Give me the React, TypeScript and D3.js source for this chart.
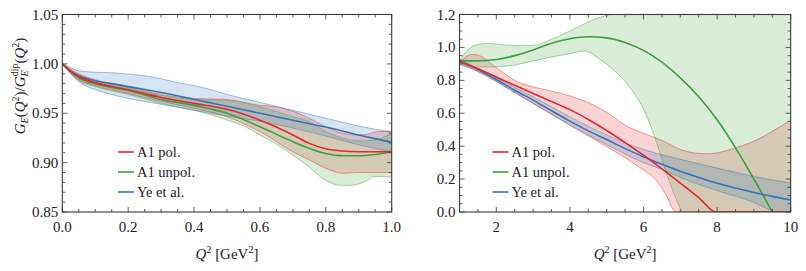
import React from "react";
import * as d3 from "d3";

type P = [number, number];

// ---------- Left panel data (Q^2 in GeV^2, ratio) ----------
const leftBlueMid: P[] = [[0,1.0],[0.02,0.994],[0.05,0.988],[0.1,0.983],[0.15,0.980],[0.2,0.977],[0.3,0.971],[0.4,0.964],[0.5,0.957],[0.6,0.950],[0.7,0.943],[0.8,0.936],[0.9,0.928],[1.0,0.9205]];
const leftBlueHi: P[] = [[0,1.0],[0.02,0.997],[0.05,0.993],[0.1,0.9915],[0.15,0.991],[0.2,0.9896],[0.25,0.988],[0.3,0.985],[0.35,0.981],[0.4,0.978],[0.45,0.974],[0.5,0.969],[0.6,0.961],[0.7,0.953],[0.8,0.945],[0.9,0.937],[1.0,0.931]];
const leftBlueLo: P[] = [[0,1.0],[0.02,0.992],[0.05,0.982],[0.1,0.974],[0.15,0.969],[0.2,0.965],[0.25,0.962],[0.3,0.959],[0.35,0.956],[0.4,0.953],[0.45,0.950],[0.5,0.947],[0.6,0.942],[0.7,0.935],[0.8,0.927],[0.9,0.918],[1.0,0.911]];

const leftRedMid: P[] = [[0,1.0],[0.02,0.994],[0.05,0.987],[0.1,0.981],[0.2,0.974],[0.3,0.966],[0.4,0.960],[0.5,0.954],[0.6,0.943],[0.65,0.936],[0.7,0.928],[0.75,0.9195],[0.8,0.914],[0.85,0.9117],[0.9,0.911],[1.0,0.911]];
const leftRedHi: P[] = [[0,1.0],[0.05,0.990],[0.1,0.984],[0.2,0.977],[0.3,0.969],[0.4,0.965],[0.5,0.964],[0.6,0.958],[0.65,0.9566],[0.7,0.952],[0.75,0.9448],[0.8,0.9364],[0.85,0.9297],[0.9,0.928],[0.93,0.929],[0.95,0.931],[1.0,0.932]];
const leftRedLo: P[] = [[0,1.0],[0.05,0.984],[0.1,0.978],[0.2,0.970],[0.3,0.962],[0.4,0.955],[0.5,0.9465],[0.6,0.9314],[0.7,0.911],[0.75,0.9027],[0.8,0.8943],[0.85,0.8892],[0.9,0.890],[1.0,0.890]];

const leftGreenMid: P[] = [[0,1.0],[0.02,0.994],[0.05,0.986],[0.1,0.980],[0.2,0.973],[0.3,0.964],[0.4,0.958],[0.5,0.950],[0.6,0.9364],[0.7,0.9212],[0.8,0.9093],[0.85,0.907],[0.9,0.907],[0.95,0.9083],[1.0,0.911]];
const leftGreenHi: P[] = [[0,1.0],[0.05,0.989],[0.1,0.983],[0.2,0.976],[0.3,0.968],[0.4,0.964],[0.5,0.963],[0.6,0.9566],[0.7,0.9465],[0.75,0.9415],[0.8,0.9314],[0.85,0.925],[0.9,0.922],[0.95,0.923],[1.0,0.930]];
const leftGreenLo: P[] = [[0,1.0],[0.05,0.983],[0.1,0.977],[0.2,0.969],[0.3,0.960],[0.4,0.953],[0.5,0.9432],[0.555,0.9364],[0.6,0.928],[0.646,0.9195],[0.7,0.9077],[0.747,0.896],[0.8,0.882],[0.848,0.877],[0.878,0.877],[0.919,0.8808],[0.949,0.886],[0.979,0.886],[1.0,0.885]];

// ---------- Right panel data ----------
const rightBlueMid: P[] = [[1,0.92],[1.5,0.865],[2,0.805],[2.5,0.74],[3,0.68],[3.5,0.615],[4,0.552],[4.5,0.493],[5,0.44],[5.5,0.385],[6,0.336],[6.5,0.29],[7,0.248],[7.5,0.21],[8,0.175],[8.5,0.146],[9,0.119],[9.5,0.095],[10,0.073]];
const rightBlueHi: P[] = [[1,0.93],[2,0.815],[3,0.70],[4,0.578],[5,0.468],[6,0.38],[6.5,0.348],[7,0.32],[8,0.267],[9,0.216],[10,0.176]];
const rightBlueLo: P[] = [[1,0.91],[2,0.792],[3,0.66],[4,0.528],[5,0.41],[6,0.30],[6.5,0.258],[7,0.21],[8,0.13],[9,0.058],[9.5,0.005],[10,-0.04]];

const rightRedMid: P[] = [[1,0.915],[1.5,0.87],[2,0.82],[2.5,0.77],[3,0.72],[3.5,0.672],[4,0.622],[4.5,0.562],[5,0.495],[5.5,0.422],[6,0.345],[6.5,0.262],[7,0.176],[7.5,0.088],[7.97,0],[8.5,0],[10,0]];
const rightRedHi: P[] = [[1,0.905],[1.15,0.94],[1.35,0.957],[1.55,0.95],[1.8,0.91],[2.1,0.86],[2.5,0.80],[3,0.76],[3.5,0.735],[4,0.705],[4.5,0.665],[5,0.605],[5.5,0.528],[6,0.478],[6.5,0.435],[7,0.38],[7.5,0.356],[7.8,0.354],[8,0.36],[8.5,0.39],[9,0.43],[9.5,0.49],[10,0.558]];
const rightRedLo: P[] = [[1,0.895],[1.5,0.855],[2,0.795],[2.5,0.725],[3,0.66],[3.5,0.595],[4,0.528],[4.5,0.462],[5,0.397],[5.5,0.33],[6,0.255],[6.3,0.205],[6.6,0.11],[6.88,0],[7.5,0],[10,0]];

const rightGreenMid: P[] = [[1,0.92],[1.5,0.918],[2,0.927],[2.5,0.95],[3,0.985],[3.5,1.025],[4,1.053],[4.5,1.065],[5,1.058],[5.5,1.03],[6,0.982],[6.5,0.91],[7,0.815],[7.5,0.70],[8,0.56],[8.5,0.39],[9,0.2],[9.5,0],[10,-0.22]];
const rightGreenHi: P[] = [[1,0.92],[1.25,0.99],[1.5,1.018],[1.8,1.025],[2.1,1.018],[2.5,1.012],[3,1.013],[3.5,1.05],[4,1.1],[4.5,1.155],[5,1.195],[5.5,1.215],[6,1.23],[10,1.25]];
const rightGreenLo: P[] = [[1,0.90],[1.5,0.88],[2,0.882],[2.5,0.893],[3,0.918],[3.5,0.942],[4,0.962],[4.4,0.978],[4.8,0.93],[5.2,0.86],[5.6,0.765],[6,0.625],[6.3,0.46],[6.6,0.25],[6.85,0.1],[7.05,0],[7.5,-0.1],[10,-0.1]];

// ---------- Ticks / legend ----------
const leftXTicks = [0, 0.2, 0.4, 0.6, 0.8, 1.0];
const leftXLabels = ["0.0", "0.2", "0.4", "0.6", "0.8", "1.0"];
const leftYTicks = [0.85, 0.9, 0.95, 1.0, 1.05];
const leftYLabels = ["0.85", "0.90", "0.95", "1.00", "1.05"];
const rightXTicks = [2, 4, 6, 8, 10];
const rightXLabels = ["2", "4", "6", "8", "10"];
const rightYTicks = [0, 0.2, 0.4, 0.6, 0.8, 1.0, 1.2];
const rightYLabels = ["0.0", "0.2", "0.4", "0.6", "0.8", "1.0", "1.2"];
const legendNames = ["A1 pol.", "A1 unpol.", "Ye et al."];

const RED = "#e5262a";
const GREEN = "#3c9f3c";
const BLUE = "#3474b5";
const AXIS = "#3a3a3a";
const FONT = "Liberation Serif, DejaVu Serif, serif";

type Series = { mid: P[]; hi: P[]; lo: P[]; color: string };

interface PanelProps {
  id: string;
  x0: number; x1: number; y0: number; y1: number;
  xDomain: [number, number]; yDomain: [number, number];
  xTicks: number[]; xLabels: string[]; yTicks: number[]; yLabels: string[];
  xMinorStep: number; yMinorStep: number;
  bands: Series[];
  legendX: number;
}

const txt = { fontFamily: FONT, fontSize: "15px" } as React.CSSProperties;
const legTxt = { fontFamily: FONT, fontSize: "14.5px" } as React.CSSProperties;

function Panel(p: PanelProps) {
  const x = d3.scaleLinear().domain(p.xDomain).range([p.x0, p.x1]);
  const y = d3.scaleLinear().domain(p.yDomain).range([p.y1, p.y0]);
  const line = d3.line<P>().x(d => x(d[0])).y(d => y(d[1])).curve(d3.curveMonotoneX);
  const band = (hi: P[], lo: P[]) => {
    const a = line(hi) as string;
    const b = line(lo.slice().reverse()) as string;
    return a + "L" + b.slice(1) + "Z";
  };
  const xMinor = d3.range(p.xDomain[0], p.xDomain[1] + 1e-9, p.xMinorStep);
  const yMinor = d3.range(p.yDomain[0], p.yDomain[1] + 1e-9, p.yMinorStep);
  const isMajor = (v: number, arr: number[]) => arr.some(t => Math.abs(t - v) < 1e-6);
  const legendRows = [152, 172, 192];
  const legendColors = [RED, GREEN, BLUE];
  return (
    <g>
      <defs>
        <clipPath id={p.id}>
          <rect x={p.x0} y={p.y0} width={p.x1 - p.x0} height={p.y1 - p.y0} />
        </clipPath>
      </defs>
      <g clipPath={`url(#${p.id})`}>
        {p.bands.map((s, i) => (
          <path key={"b" + i} d={band(s.hi, s.lo)} fill={s.color} fillOpacity={0.2} stroke="none" />
        ))}
        {p.bands.map((s, i) => (
          <g key={"e" + i}>
            <path d={line(s.hi) as string} fill="none" stroke={s.color} strokeOpacity={0.55} strokeWidth={0.8} />
            <path d={line(s.lo) as string} fill="none" stroke={s.color} strokeOpacity={0.55} strokeWidth={0.8} />
          </g>
        ))}
        {[p.bands[1], p.bands[2], p.bands[0]].map((s, i) => (
          <path key={"m" + i} d={line(s.mid) as string} fill="none" stroke={s.color} strokeWidth={1.6} />
        ))}
      </g>
      {xMinor.map((v, i) => {
        const len = isMajor(v, p.xTicks) ? 5 : 3;
        return (
          <g key={"xt" + i}>
            <line x1={x(v)} x2={x(v)} y1={p.y1} y2={p.y1 - len} stroke={AXIS} strokeWidth={0.8} />
            <line x1={x(v)} x2={x(v)} y1={p.y0} y2={p.y0 + len} stroke={AXIS} strokeWidth={0.8} />
          </g>
        );
      })}
      {yMinor.map((v, i) => {
        const len = isMajor(v, p.yTicks) ? 5 : 3;
        return (
          <g key={"yt" + i}>
            <line x1={p.x0} x2={p.x0 + len} y1={y(v)} y2={y(v)} stroke={AXIS} strokeWidth={0.8} />
            <line x1={p.x1} x2={p.x1 - len} y1={y(v)} y2={y(v)} stroke={AXIS} strokeWidth={0.8} />
          </g>
        );
      })}
      <rect x={p.x0} y={p.y0} width={p.x1 - p.x0} height={p.y1 - p.y0} fill="none" stroke={AXIS} strokeWidth={1.1} />
      {p.xTicks.map((v, i) => (
        <text key={"xl" + i} x={x(v)} y={232} textAnchor="middle" style={txt} fill="#222">{p.xLabels[i]}</text>
      ))}
      {p.yTicks.map((v, i) => (
        <text key={"yl" + i} x={p.x0 - 4} y={y(v) + 5} textAnchor="end" style={txt} fill="#222">{p.yLabels[i]}</text>
      ))}
      <text x={(p.x0 + p.x1) / 2} y={259} textAnchor="middle" style={txt} fill="#222">
        <tspan fontStyle="italic">Q</tspan>
        <tspan dy={-6} style={{ fontSize: "10px" }}>2</tspan>
        <tspan dy={6}> [GeV</tspan>
        <tspan dy={-6} style={{ fontSize: "10px" }}>2</tspan>
        <tspan dy={6}>]</tspan>
      </text>
      {legendNames.map((n, i) => (
        <g key={"lg" + i}>
          <line x1={p.legendX} x2={p.legendX + 16} y1={legendRows[i]} y2={legendRows[i]} stroke={legendColors[i]} strokeWidth={1.6} />
          <text x={p.legendX + 19} y={legendRows[i] + 5} style={legTxt} fill="#222">{n}</text>
        </g>
      ))}
    </g>
  );
}

export default function App() {
  const leftBands: Series[] = [
    { mid: leftRedMid, hi: leftRedHi, lo: leftRedLo, color: RED },
    { mid: leftGreenMid, hi: leftGreenHi, lo: leftGreenLo, color: GREEN },
    { mid: leftBlueMid, hi: leftBlueHi, lo: leftBlueLo, color: BLUE },
  ];
  const rightBands: Series[] = [
    { mid: rightRedMid, hi: rightRedHi, lo: rightRedLo, color: RED },
    { mid: rightGreenMid, hi: rightGreenHi, lo: rightGreenLo, color: GREEN },
    { mid: rightBlueMid, hi: rightBlueHi, lo: rightBlueLo, color: BLUE },
  ];
  const sub = { fontSize: "10px" } as React.CSSProperties;
  return (
    <svg width={806} height={271} style={{ position: "absolute", left: 0, top: 0, background: "#fff", fontFamily: FONT }}>
      <Panel id="clipL" x0={62.3} x1={391.7} y0={14.5} y1={212} xDomain={[0, 1]} yDomain={[0.85, 1.05]}
        xTicks={leftXTicks} xLabels={leftXLabels} yTicks={leftYTicks} yLabels={leftYLabels}
        xMinorStep={0.05} yMinorStep={0.01} bands={leftBands} legendX={118} />
      <Panel id="clipR" x0={459.5} x1={790.7} y0={14.5} y1={212} xDomain={[1, 10]} yDomain={[0, 1.2]}
        xTicks={rightXTicks} xLabels={rightXLabels} yTicks={rightYTicks} yLabels={rightYLabels}
        xMinorStep={0.5} yMinorStep={0.05} bands={rightBands} legendX={492.5} />
      <text transform="translate(25,86) rotate(-90)" textAnchor="middle" style={txt} fill="#222">
        <tspan fontStyle="italic">G</tspan>
        <tspan fontStyle="italic" style={sub} dy={3}>E</tspan>
        <tspan dy={-3}>(</tspan>
        <tspan fontStyle="italic">Q</tspan>
        <tspan style={sub} dy={-6}>2</tspan>
        <tspan dy={6}>)/</tspan>
        <tspan fontStyle="italic">G</tspan>
        <tspan fontStyle="italic" style={sub} dy={3}>E</tspan>
        <tspan style={sub} dx={-6} dy={-10}>dip</tspan>
        <tspan dy={7}>(</tspan>
        <tspan fontStyle="italic">Q</tspan>
        <tspan style={sub} dy={-6}>2</tspan>
        <tspan dy={6}>)</tspan>
      </text>
    </svg>
  );
}
